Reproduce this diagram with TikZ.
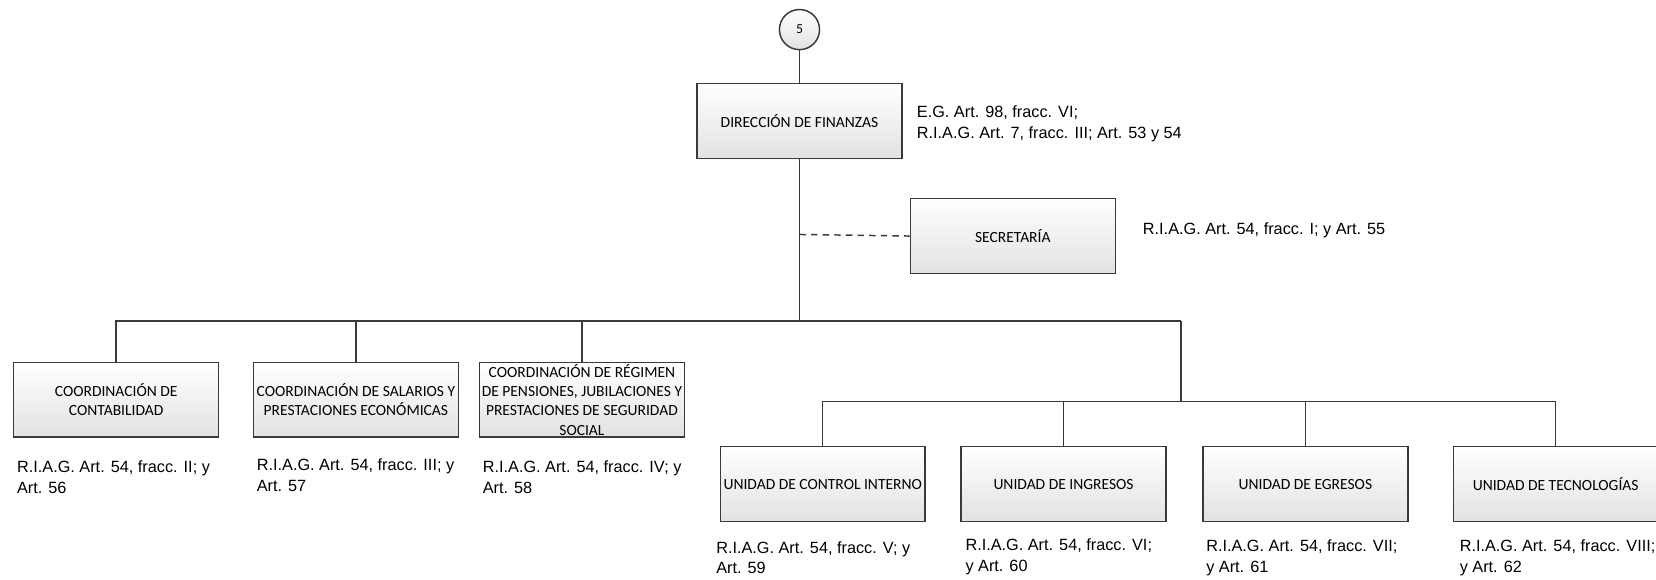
\documentclass[tikz,border=0pt]{standalone}
\usepackage{fontspec}
\setmainfont{Liberation Sans}
\newfontfamily\boxfont{Carlito}
\definecolor{linec}{HTML}{3A3A3A}
\definecolor{boxbot}{HTML}{E2E2E2}
\begin{document}
\begin{tikzpicture}[x=1pt,y=-1pt,
  unitbox/.style={draw=linec, line width=1.4pt, top color=white, bottom color=boxbot,
    minimum width=194pt, minimum height=71pt, inner sep=0pt, align=center,
    font=\boxfont\fontsize{14.7}{18.3}\selectfont},
  lbl/.style={anchor=west, inner sep=0pt, align=left, font=\fontsize{15.4}{19.5}\selectfont},
  conn/.style={draw=linec, line width=1.4pt},
  dconn/.style={draw=linec, line width=1.4pt, dash pattern=on 6pt off 5pt}]
\useasboundingbox (0,0) rectangle (1568,548.3);

% connector circle
\node[circle, draw=linec, line width=1.4pt, top color=white, bottom color=boxbot,
  minimum size=38pt, inner sep=0pt, font=\boxfont\fontsize{13}{15}\selectfont] (c5) at (757,28) {5};

% top level
\node[unitbox] (dir) at (757,114.5) {DIRECCIÓN DE FINANZAS};
\node[lbl] (ldir) at (868,117) {E.G. Art. 98, fracc. VI;\\R.I.A.G. Art. 7, fracc. III; Art. 53 y 54};

\node[unitbox] (sec) at (959,223.5) {SECRETARÍA};
\node[lbl] (lsec) at (1082,218) {R.I.A.G. Art. 54, fracc. I; y Art. 55};

% coordinations
\node[unitbox] (c1) at (110,378.5) {COORDINACIÓN DE\\CONTABILIDAD};
\node[unitbox] (c2) at (337,378.5) {COORDINACIÓN DE SALARIOS Y\\PRESTACIONES ECONÓMICAS};
\node[unitbox] (c3) at (551,378.5) {COORDINACIÓN DE RÉGIMEN\\DE PENSIONES, JUBILACIONES Y\\PRESTACIONES DE SEGURIDAD\\SOCIAL};
\node[lbl] (l1) at (16,452) {R.I.A.G. Art. 54, fracc. II; y\\Art. 56};
\node[lbl] (l2) at (243,450) {R.I.A.G. Art. 54, fracc. III; y\\Art. 57};
\node[lbl] (l3) at (457,452) {R.I.A.G. Art. 54, fracc. IV; y\\Art. 58};

% units
\node[unitbox] (u1) at (779,458.5) {UNIDAD DE CONTROL INTERNO};
\node[unitbox] (u2) at (1007,458.5) {UNIDAD DE INGRESOS};
\node[unitbox] (u3) at (1236,458.5) {UNIDAD DE EGRESOS};
\node[unitbox] (u4) at (1473,458.5) {UNIDAD DE TECNOLOGÍAS};
\node[lbl] (l4) at (678,528) {R.I.A.G. Art. 54, fracc. V; y\\Art. 59};
\node[lbl] (l5) at (914,527) {R.I.A.G. Art. 54, fracc. VI;\\y Art. 60};
\node[lbl] (l6) at (1142,528) {R.I.A.G. Art. 54, fracc. VII;\\y Art. 61};
\node[lbl] (l7) at (1382,528) {R.I.A.G. Art. 54, fracc. VIII;\\y Art. 62};

% junction coordinates
\coordinate (j0) at (757,304);
\coordinate (jd) at (757,222);
\coordinate (jb) at (1118,304);
\coordinate (jb2) at (1118,380);

% connectors
\draw[conn] (c5) -- (dir);
\draw[conn] (dir.south) -- (j0);
\draw[dconn] (jd) -- (sec.west);
\draw[conn] (c1.north) |- (jb);
\draw[conn] (c2.north) -- (c2.north |- j0);
\draw[conn] (c3.north) -- (c3.north |- j0);
\draw[conn] (jb) -- (jb2);
\draw[conn] (u1.north) |- (u4.north |- jb2) -- (u4.north);
\draw[conn] (u2.north) -- (u2.north |- jb2);
\draw[conn] (u3.north) -- (u3.north |- jb2);
\end{tikzpicture}
\end{document}
